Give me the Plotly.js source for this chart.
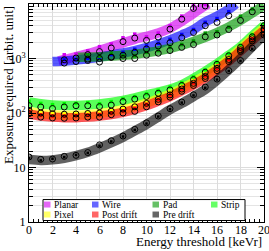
<!DOCTYPE html>
<html>
<head>
<meta charset="utf-8">
<script src="https://cdn.plot.ly/plotly-3.0.1.min.js"></script>
<style>html,body{margin:0;padding:0;background:#fff;}#chart{width:269px;height:251px;}</style>
</head>
<body>
<div id="chart"></div>
<script>
// ---- data ----
const seriesNames = ['Planar','Wire','Pad','Strip','Pixel','Post drift','Pre drift'];
const seriesRGB = ['210,0,240','0,0,255','0,150,0','0,255,0','255,255,0','255,0,0','0,0,0'];

const planarBandX = [2.5,3,4,5,6,7,8,9,10,11,12,13,14,15,15.3];
const planarBandY = [900,960,1080,1230,1420,1650,1930,2250,2550,2950,3600,4800,6700,9300,10000];
const wireBandX = [2,3,4,5,6,7,8,9,10,11,12,13,14,15,16,17,17.6];
const wireBandY = [880,900,940,990,1060,1150,1260,1400,1580,1850,2200,2700,3400,4700,6000,8000,10000];
const padBandX = [4,5,6,7,8,9,10,11,12,13,14,15,16,17,18,19,20];
const padBandY = [1050,1060,1080,1110,1150,1200,1280,1380,1530,1750,2050,2450,3000,3800,5000,6800,9500];
const fullX = [0,1,2,3,4,5,6,7,8,9,10,11,12,13,14,15,16,17,18,19,20];
const stripBandY = [160,148,140,137,137,140,146,156,170,190,215,242,275,330,430,580,800,1150,1650,2600,4000];
const pixelBandY = [106,98,93,91,91,93,98,105,115,130,152,182,222,282,365,485,680,990,1500,2350,3600];
const postBandY = [95,88,84,82,82,84,88,94,103,117,137,165,200,255,330,440,620,900,1380,2150,3300];
const preBandY = [14,13.5,13.8,14.8,16.5,19,23,28.5,36,47,62,84,115,150,200,270,400,620,1000,1650,2700];

const planarPtX = [3,4,5,6,7,8,9,10,11,12,13,14,15];
const planarSq = [1170,1200,1380,1650,1850,2400,2800,2500,2930,3950,6000,9300,9900];
const planarCirc = [950,1020,1180,1340,1560,2040,2370,2150,2460,3460,5270,8300,9200];
const wirePtX = [3,4,5,6,7,8,9,10,11,12,13,14,15,16,17];
const wireSq = [975,960,1000,1050,1180,1300,1480,1700,1900,2250,2750,3400,4600,5400,7200];
const wireCirc = [824,880,920,860,1050,1150,1300,1500,1700,1950,2400,3000,4000,4600,6100];
const padPtX = [5,6,7,8,9,10,11,12,13,14,15,16,17,18,19];
const padSq = [1170,1100,1250,1150,1120,1300,1400,1600,1800,2100,2920,3100,3760,5950,8100];
const padCirc = [975,1000,1060,1000,1000,1150,1250,1400,1600,1800,2500,2700,3400,5000,7200];
const stripSq = [165,150,142,148,150,155,148,162,182,200,225,260,300,360,460,620,860,1230,1750,2750,4300];
const stripCirc = [136,129,121,129,136,136,131,140,162,180,201,230,265,320,410,560,780,1120,1600,2500,4000];
const pixelSq = [118,106,100,99,100,102,106,114,126,140,160,192,232,296,380,505,710,1030,1560,2450,3700];
const pixelCirc = [112,100,97,95,96,98,100,108,118,130,150,178,215,275,350,470,660,960,1450,2300,3500];
const postSq = [108,92,88,88,90,92,94,100,110,122,145,178,215,275,355,480,660,960,1480,2300,3500];
const postCirc = [97,84,81,80,81,84,84,93,100,107,130,160,195,250,320,430,600,880,1350,2100,3340];
const preSq = [15,13.5,14.5,15.5,17,18.5,25,30,37,49,64,86,117,155,210,290,410,590,900,1500,2650];
const preCirc = [15.6,14.1,14.3,16,16.7,18.8,26,31,37.8,50,66,88,120,159,216,299,419,600,920,1550,2700];

const xTickVals = [0,2,4,6,8,10,12,14,16,18,20];
const xTickText = ['0','2','4','6','8','10','12','14','16','18','20'];
const yTickVals = [1,10,100,1000];
const yTickText = ['1','10','10<sup>2</sup>','10<sup>3</sup>'];
const xTitle = 'Energy threshold [keVr]';
const yTitle = 'Exposure required [arbit. unit]';

// ---- build ----
const bands = [
  [planarBandX, planarBandY], [wireBandX, wireBandY], [padBandX, padBandY],
  [fullX, stripBandY], [fullX, pixelBandY], [fullX, postBandY], [fullX, preBandY]
];
const points = [
  [planarPtX, planarSq, planarCirc], [wirePtX, wireSq, wireCirc], [padPtX, padSq, padCirc],
  [fullX, stripSq, stripCirc], [fullX, pixelSq, pixelCirc], [fullX, postSq, postCirc], [fullX, preSq, preCirc]
];
const traces = [];
bands.forEach((b, i) => {
  traces.push({x: b[0], y: b[1], type: 'scatter', mode: 'lines', showlegend: false,
    line: {color: 'rgba(' + seriesRGB[i] + ',' + (i === 6 ? 0.62 : 0.65) + ')', width: 9.5, shape: 'spline'}, hoverinfo: 'skip'});
});
points.forEach((p, i) => {
  traces.push({x: p[0], y: p[1], type: 'scatter', mode: 'markers', showlegend: false,
    marker: {symbol: 'square', size: i === 6 ? 2.5 : 3.5, color: 'rgb(' + seriesRGB[i] + ')'}});
});
points.forEach((p, i) => {
  traces.push({x: p[0], y: p[2], type: 'scatter', mode: 'markers', showlegend: false,
    marker: {symbol: 'circle-open', size: 6, color: '#000', line: {width: 1, color: '#000'}}});
});

// pixel -> paper helpers (plot area 29..264 x, 4..222.5 y)
const L = 29, W = 235, B = 222.5, H = 218.5;
const px = v => (v - L) / W;
const py = v => (B - v) / H;

const shapes = [{type: 'rect', xref: 'paper', yref: 'paper', x0: px(43), x1: px(245), y0: py(221), y1: py(200),
  line: {color: '#000', width: 1}, fillcolor: '#fff', layer: 'above'}];
const annotations = [];
const colX = [44, 92, 152.5, 211];
const rowY = [205, 215];
seriesNames.forEach((name, i) => {
  const c = i % 4, r = Math.floor(i / 4);
  shapes.push({type: 'rect', xref: 'paper', yref: 'paper', x0: px(colX[c]), x1: px(colX[c] + 6.5),
    y0: py(rowY[r] + 3), y1: py(rowY[r] - 3), line: {width: 0}, fillcolor: 'rgba(' + seriesRGB[i] + ',0.6)', layer: 'above'});
  annotations.push({xref: 'paper', yref: 'paper', x: px(colX[c] + 8), y: py(rowY[r]), xanchor: 'left', yanchor: 'middle',
    text: name, showarrow: false, font: {family: 'Liberation Serif', size: 9.5, color: '#000'}});
});
xTickVals.forEach((v, i) => {
  annotations.push({xref: 'x', yref: 'paper', x: v, y: py(230.5), xanchor: 'center', yanchor: 'middle',
    text: xTickText[i], showarrow: false, font: {family: 'Liberation Serif', size: 12, color: '#000'}});
});
annotations.push({xref: 'paper', yref: 'paper', x: 1, y: py(242.5), xanchor: 'right', yanchor: 'middle',
  text: xTitle, showarrow: false, font: {family: 'Liberation Serif', size: 13, color: '#000'}});
annotations.push({xref: 'paper', yref: 'paper', x: px(8), y: 1, xanchor: 'center', yanchor: 'top', textangle: -90,
  text: yTitle, showarrow: false, font: {family: 'Liberation Serif', size: 13, color: '#000'}});

const layout = {
  width: 269, height: 251,
  margin: {l: 29, r: 5, t: 4, b: 28.5},
  paper_bgcolor: '#fff', plot_bgcolor: '#fff',
  showlegend: false,
  font: {family: 'Liberation Serif', size: 12, color: '#000'},
  xaxis: {range: [0, 20], tickvals: xTickVals, showticklabels: false, ticks: 'inside', ticklen: 6, tickcolor: '#000',
    showline: true, linecolor: '#000', linewidth: 1, mirror: 'allticks', zeroline: false,
    showgrid: true, gridcolor: '#dcdcdc', gridwidth: 1,
    minor: {dtick: 0.4, ticks: 'inside', ticklen: 3, tickcolor: '#000', showgrid: false}},
  yaxis: {type: 'log', range: [0, 4], tickvals: yTickVals, ticktext: yTickText, ticks: 'inside', ticklen: 7, tickcolor: '#000',
    showline: true, linecolor: '#000', linewidth: 1, mirror: 'allticks', zeroline: false,
    showgrid: true, gridcolor: '#dcdcdc', gridwidth: 1,
    minor: {dtick: 'D1', ticks: 'inside', ticklen: 4, tickcolor: '#000', showgrid: true, gridcolor: '#e4e4e4', gridwidth: 1},
    tickfont: {family: 'Liberation Serif', size: 12, color: '#000'}},
  shapes: shapes,
  annotations: annotations
};
Plotly.newPlot('chart', traces, layout, {displayModeBar: false, staticPlot: true});
</script>
</body>
</html>
